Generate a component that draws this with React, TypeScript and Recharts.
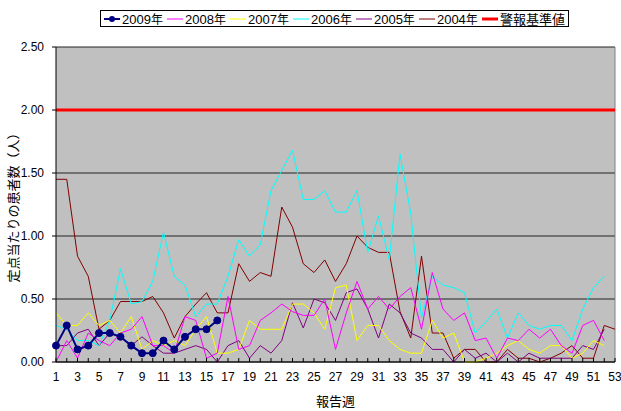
import { LineChart, Line, XAxis, YAxis, CartesianGrid, ReferenceLine } from "recharts";

const weeks = [
  1, 2, 3, 4, 5, 6, 7, 8, 9, 10, 11, 12, 13, 14, 15, 16, 17, 18, 19, 20, 21, 22, 23, 24, 25, 26,
  27, 28, 29, 30, 31, 32, 33, 34, 35, 36, 37, 38, 39, 40, 41, 42, 43, 44, 45, 46, 47, 48, 49, 50,
  51, 52, 53,
];
const yTicks = [0, 0.5, 1, 1.5, 2, 2.5];
const alertLevel = 2.0;

const y2009 = [0.13, 0.29, 0.1, 0.13, 0.23, 0.23, 0.2, 0.13, 0.07, 0.07, 0.17, 0.1, 0.2, 0.26, 0.26, 0.33];
const y2008 = [
  0.0, 0.17, 0.03, 0.23, 0.17, 0.13, 0.23, 0.26, 0.36, 0.13, 0.13, 0.07, 0.36, 0.33, 0.03, 0.07, 0.52,
  0.1, 0.13, 0.33, 0.39, 0.46, 0.4, 0.37, 0.37, 0.5, 0.1, 0.39, 0.64, 0.42, 0.52, 0.42, 0.52, 0.59,
  0.26, 0.71, 0.42, 0.33, 0.39, 0.17, 0.19, 0.03, 0.19, 0.17, 0.26, 0.19, 0.26, 0.13, 0.07, 0.29,
  0.33, 0.17,
];
const y2007 = [
  0.39, 0.29, 0.29, 0.39, 0.29, 0.33, 0.23, 0.36, 0.1, 0.17, 0.13, 0.17, 0.13, 0.26, 0.36, 0.07, 0.07,
  0.1, 0.33, 0.26, 0.26, 0.26, 0.46, 0.46, 0.39, 0.26, 0.59, 0.61, 0.17, 0.29, 0.29, 0.17, 0.1, 0.07,
  0.07, 0.33, 0.19, 0.23, 0.0, 0.0, 0.03, 0.07, 0.13, 0.17, 0.1, 0.07, 0.13, 0.13, 0.03, 0.07, 0.17,
  0.13,
];
const y2006 = [
  0.29, 0.26, 0.17, 0.17, 0.13, 0.33, 0.74, 0.46, 0.48, 0.64, 1.03, 0.68, 0.61, 0.36, 0.46, 0.46, 0.68,
  0.97, 0.84, 0.93, 1.36, 1.52, 1.68, 1.29, 1.29, 1.36, 1.19, 1.19, 1.36, 0.87, 1.16, 0.81, 1.65, 1.18,
  0.35, 0.68, 0.61, 0.59, 0.55, 0.23, 0.32, 0.42, 0.19, 0.39, 0.29, 0.26, 0.29, 0.29, 0.17, 0.42,
  0.59, 0.68,
];
const y2005 = [
  0.13, 0.13, 0.23, 0.26, 0.13, 0.23, 0.2, 0.13, 0.2, 0.13, 0.07, 0.07, 0.1, 0.13, 0.1, 0.0, 0.13,
  0.17, 0.03, 0.13, 0.07, 0.17, 0.47, 0.27, 0.5, 0.47, 0.33, 0.55, 0.58, 0.42, 0.19, 0.46, 0.39, 0.23,
  0.19, 0.1, 0.1, 0.0, 0.1, 0.03, 0.07, 0.0, 0.07, 0.0, 0.07, 0.03, 0.03, 0.03, 0.03, 0.13, 0.1, 0.26,
];
const y2004 = [
  1.45, 1.45, 0.84, 0.68, 0.26, 0.33, 0.48, 0.48, 0.48, 0.52, 0.39, 0.19, 0.36, 0.46, 0.55, 0.39, 0.39,
  0.78, 0.64, 0.71, 0.68, 1.23, 1.07, 0.78, 0.71, 0.81, 0.64, 0.78, 1.0, 0.91, 0.87, 0.87, 0.4, 0.19,
  0.84, 0.23, 0.23, 0.03, 0.1, 0.1, 0.0, 0.0, 0.1, 0.03, 0.03, 0.0, 0.03, 0.07, 0.13, 0.03, 0.03,
  0.29, 0.26,
];

const series = [
  { key: "y2009", name: "2009年", values: y2009, color: "#000080", width: 2, dot: true },
  { key: "y2008", name: "2008年", values: y2008, color: "#FF00FF", width: 1, dot: false },
  { key: "y2007", name: "2007年", values: y2007, color: "#FFFF00", width: 1, dot: false },
  { key: "y2006", name: "2006年", values: y2006, color: "#00FFFF", width: 1, dot: false },
  { key: "y2005", name: "2005年", values: y2005, color: "#800080", width: 1, dot: false },
  { key: "y2004", name: "2004年", values: y2004, color: "#800000", width: 1, dot: false },
];

const data = weeks.map((w, i) => {
  const row: Record<string, number | undefined> = { week: w };
  series.forEach((s) => {
    row[s.key] = s.values[i];
  });
  return row;
});

const numFont = "'Liberation Sans Narrow', 'Liberation Sans', Arial, sans-serif";
const jpFont = "'Noto Sans CJK JP', sans-serif";

function WeekTick(props: any) {
  const { x, y, payload } = props;
  const w = payload.value as number;
  return (
    <g>
      <line x1={x} x2={x} y1={y} y2={y - 4} stroke="#000" strokeWidth={1} />
      {w % 2 === 1 && (
        <text x={x} y={y + 19} textAnchor="middle" fontSize={12} fontFamily={numFont} fill="#000">
          {w}
        </text>
      )}
    </g>
  );
}

function LegendBox() {
  const items = [
    ...series.map((s) => ({ name: s.name, color: s.color, width: s.width, dot: s.dot })),
    { name: "警報基準値", color: "#FF0000", width: 3, dot: false },
  ];
  return (
    <div
      style={{
        position: "absolute",
        left: 100,
        top: 10,
        width: 469,
        height: 17,
        border: "1px solid #000",
        background: "#fff",
        display: "flex",
        alignItems: "center",
        justifyContent: "space-between",
        padding: "0 3px",
        boxSizing: "border-box",
        fontSize: 13,
        fontFamily: numFont,
        lineHeight: "17px",
      }}
    >
      {items.map((it) => (
        <div key={it.name} style={{ display: "flex", alignItems: "center" }}>
          <svg width={16} height={10} style={{ marginRight: 2 }}>
            <line x1={0} x2={16} y1={5} y2={5} stroke={it.color} strokeWidth={it.width} />
            {it.dot && <circle cx={8} cy={5} r={3} fill={it.color} />}
          </svg>
          <span style={{ fontFamily: it.name.startsWith("2") ? numFont : jpFont, fontSize: 13 }}>
            {it.name.startsWith("2") ? (
              <>
                {it.name.slice(0, 4)}
                <span style={{ fontFamily: jpFont, fontSize: 12 }}>{it.name.slice(4)}</span>
              </>
            ) : (
              it.name
            )}
          </span>
        </div>
      ))}
    </div>
  );
}

export default function App() {
  return (
    <div style={{ position: "absolute", left: 0, top: 0, width: 621, height: 411, background: "#fff" }}>
      <LineChart width={621} height={411} data={data} margin={{ top: 47, right: 6, left: 0, bottom: 0 }}>
        <CartesianGrid vertical={false} stroke="#222" fill="#C0C0C0" fillOpacity={1} />
        <XAxis
          dataKey="week"
          type="number"
          domain={[1, 53]}
          ticks={weeks}
          interval={0}
          height={49}
          tickSize={0}
          tickMargin={0}
          tickLine={false}
          axisLine={{ stroke: "#000" }}
          tick={<WeekTick />}
          label={{
            value: "報告週",
            position: "insideBottom",
            offset: 5,
            fontSize: 13,
            fontFamily: jpFont,
            fill: "#000",
          }}
        />
        <YAxis
          domain={[0, 2.5]}
          ticks={yTicks}
          width={56}
          tickSize={4}
          tickMargin={8}
          tickFormatter={(v: number) => v.toFixed(2)}
          tick={{ fontSize: 12, fontFamily: numFont, fill: "#000" }}
          axisLine={{ stroke: "#000" }}
          tickLine={{ stroke: "#000" }}
          label={{
            value: "定点当たりの患者数（人）",
            angle: -90,
            position: "insideLeft",
            offset: 13,
            fontSize: 13,
            fontFamily: jpFont,
            fill: "#000",
            style: { textAnchor: "middle" },
          }}
        />
        <ReferenceLine x={53} stroke="#808080" />
        <ReferenceLine y={alertLevel} stroke="#FF0000" strokeWidth={3} />
        {series
          .slice()
          .reverse()
          .map((s) => (
            <Line
              key={s.key}
              dataKey={s.key}
              name={s.name}
              type="linear"
              stroke={s.color}
              strokeWidth={s.width}
              dot={s.dot ? { r: 3.5, fill: s.color, stroke: s.color, strokeWidth: 1 } : false}
              activeDot={false}
              connectNulls={false}
              isAnimationActive={false}
            />
          ))}
      </LineChart>
      <LegendBox />
    </div>
  );
}
